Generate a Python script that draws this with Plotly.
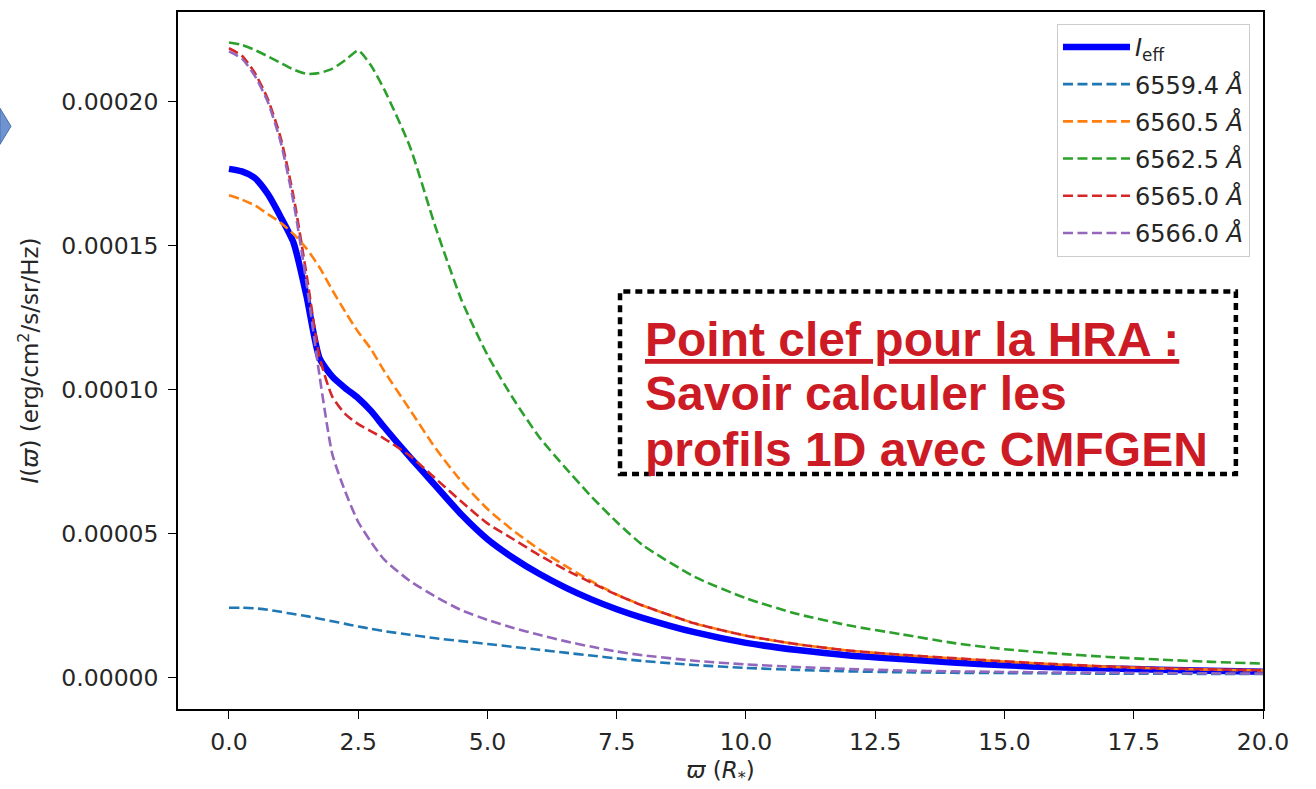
import plotly.graph_objects as go

# Radial grid (in stellar radii) shared by every profile
radius = [0, 0.25, 0.5, 0.75, 1.0, 1.25, 1.5, 1.75, 2.0, 2.25, 2.5, 2.75, 3.0, 3.5,
          4, 4.5, 5, 5.5, 6, 6.5, 7, 7.5, 8, 9, 10, 11, 12, 13, 14, 15, 16, 17, 18, 19, 20]

# Intensities, in units of 1e-4 erg/cm2/s/sr/Hz
i_eff = [1.767, 1.758, 1.735, 1.68, 1.60, 1.51, 1.325, 1.11, 1.045, 1.005, 0.97, 0.925, 0.87, 0.765,
         0.665, 0.565, 0.48, 0.415, 0.36, 0.313, 0.272, 0.237, 0.207, 0.157, 0.12, 0.095, 0.076,
         0.064, 0.052, 0.042, 0.035, 0.031, 0.027, 0.023, 0.02]
i_6559_4 = [0.242, 0.242, 0.24, 0.235, 0.228, 0.22, 0.213, 0.204, 0.195, 0.186, 0.177, 0.169, 0.161,
            0.148, 0.136, 0.126, 0.116, 0.106, 0.096, 0.086, 0.076, 0.066, 0.057, 0.043, 0.033, 0.026,
            0.021, 0.018, 0.016, 0.015, 0.014, 0.013, 0.013, 0.012, 0.012]
i_6560_5 = [1.675, 1.66, 1.64, 1.61, 1.58, 1.54, 1.49, 1.425, 1.345, 1.27, 1.20, 1.14, 1.065, 0.93,
            0.795, 0.68, 0.585, 0.51, 0.445, 0.388, 0.335, 0.288, 0.25, 0.188, 0.145, 0.115, 0.093,
            0.078, 0.066, 0.055, 0.045, 0.037, 0.031, 0.027, 0.024]
i_6562_5 = [2.206, 2.198, 2.18, 2.158, 2.135, 2.112, 2.097, 2.10, 2.115, 2.145, 2.178, 2.125, 2.044,
            1.844, 1.562, 1.31, 1.12, 0.968, 0.835, 0.73, 0.63, 0.54, 0.46, 0.35, 0.275, 0.22, 0.18,
            0.15, 0.12, 0.098, 0.083, 0.071, 0.062, 0.054, 0.048]
i_6565_0 = [2.186, 2.16, 2.10, 2.01, 1.875, 1.67, 1.40, 1.115, 0.975, 0.915, 0.88, 0.855, 0.83, 0.77,
            0.69, 0.61, 0.535, 0.48, 0.425, 0.375, 0.33, 0.287, 0.25, 0.188, 0.145, 0.115, 0.093,
            0.079, 0.067, 0.056, 0.046, 0.038, 0.032, 0.028, 0.025]
i_6566_0 = [2.175, 2.15, 2.09, 2.00, 1.86, 1.65, 1.37, 1.05, 0.775, 0.645, 0.54, 0.47, 0.41, 0.335,
            0.28, 0.233, 0.20, 0.172, 0.148, 0.126, 0.107, 0.09, 0.077, 0.058, 0.045, 0.036, 0.029,
            0.024, 0.021, 0.019, 0.017, 0.016, 0.015, 0.014, 0.013]

wavelength_labels = ["6559.4 <i>Å</i>", "6560.5 <i>Å</i>", "6562.5 <i>Å</i>",
                     "6565.0 <i>Å</i>", "6566.0 <i>Å</i>"]
wavelength_series = [i_6559_4, i_6560_5, i_6562_5, i_6565_0, i_6566_0]
wavelength_colors = ["#1f77b4", "#ff7f0e", "#2ca02c", "#d62728", "#9467bd"]

note_lines = ["<u>Point clef pour la HRA :</u>", "Savoir calculer les", "profils 1D avec CMFGEN"]

SCALE = 1e-4
FONT = "DejaVu Sans"
TEXT_COLOR = "#262626"

fig = go.Figure()

fig.add_trace(go.Scatter(
    x=radius, y=[v * SCALE for v in i_eff], mode="lines",
    name="<i>I</i><sub>eff</sub>", legendgroup="eff",
    line=dict(color="#0000ff", width=6.5, shape="spline", smoothing=0.6),
))
for label, series, color in zip(wavelength_labels, wavelength_series, wavelength_colors):
    fig.add_trace(go.Scatter(
        x=radius, y=[v * SCALE for v in series], mode="lines",
        name=label, legendgroup=label,
        line=dict(color=color, width=2.6, dash="10px,4.5px", shape="spline", smoothing=0.6),
    ))

axis_common = dict(
    showline=True, linecolor="black", linewidth=1.6, mirror=True,
    ticks="outside", ticklen=8, tickwidth=1.4, tickcolor="black",
    showgrid=False, zeroline=False,
    tickfont=dict(family=FONT, size=23.5, color=TEXT_COLOR),
)

fig.update_xaxes(
    range=[-0.986, 20], tickmode="array",
    tickvals=[0, 2.5, 5, 7.5, 10, 12.5, 15, 17.5, 20],
    ticktext=["0.0", "2.5", "5.0", "7.5", "10.0", "12.5", "15.0", "17.5", "20.0"],
    title=dict(text="<i>ϖ</i> (<i>R</i><sub>*</sub>)", font=dict(family=FONT, size=23, color=TEXT_COLOR),
               standoff=7),
    ticklabelstandoff=3,
    **axis_common,
)
fig.update_yaxes(
    range=[-1.098e-5, 2.312e-4], tickmode="array",
    tickvals=[0, 5e-5, 1e-4, 1.5e-4, 2e-4],
    ticktext=["0.00000", "0.00005", "0.00010", "0.00015", "0.00020"],
    title=dict(text="<i>I</i>(<i>ϖ</i>) (erg/cm<sup>2</sup>/s/sr/Hz)",
               font=dict(family=FONT, size=23, color=TEXT_COLOR), standoff=16),
    ticklabelstandoff=5,
    **axis_common,
)

# Highlighted take-away box
fig.add_shape(type="rect", xref="x domain", yref="y domain",
              x0=0.4074, x1=0.975, y0=0.337, y1=0.599,
              line=dict(color="black", width=4.5, dash="7px,5px"), fillcolor="rgba(0,0,0,0)")
for line_text, y_mid in zip(note_lines, [0.530, 0.452, 0.373]):
    fig.add_annotation(
        xref="x domain", yref="y domain", x=0.4286, y=y_mid, xanchor="left", yanchor="middle",
        align="left", showarrow=False, text="<b>" + line_text + "</b>",
        font=dict(family="Liberation Sans, Arial", size=48, color="#cc1b24"),
    )

# Arrow tip from the neighbouring slide element at the left edge
fig.add_shape(type="path", xref="paper", yref="paper",
              path="M -0.1641 0.862 L -0.1539 0.836 L -0.1641 0.810 Z",
              fillcolor="#6e93cf", line=dict(color="#4a6fb0", width=1))

fig.update_layout(
    width=1316, height=789,
    margin=dict(l=178, r=53, t=10, b=73),
    paper_bgcolor="white", plot_bgcolor="white",
    font=dict(family=FONT, color=TEXT_COLOR),
    legend=dict(
        x=0.988, y=0.983, xanchor="right", yanchor="top",
        bgcolor="rgba(255,255,255,0.8)", bordercolor="#cccccc", borderwidth=1,
        font=dict(family=FONT, size=24, color=TEXT_COLOR),
        tracegroupgap=3, itemwidth=67,
    ),
    showlegend=True,
)

fig.write_html("out.html")
